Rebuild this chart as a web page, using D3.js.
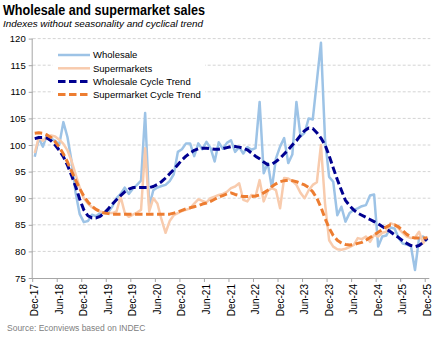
<!DOCTYPE html>
<html><head><meta charset="utf-8">
<script src="https://cdn.jsdelivr.net/npm/d3@7"></script>
<style>body{margin:0;background:#fff}svg{display:block}text{font-family:"Liberation Sans",Arial,sans-serif}</style>
</head><body><svg id="c" width="443" height="341"></svg>
<script>
const tickLabels = ["Dec-17","Jun-18","Dec-18","Jun-19","Dec-19","Jun-20","Dec-20","Jun-21","Dec-21","Jun-22","Dec-22","Jun-23","Dec-23","Jun-24","Dec-24","Jun-25","Dec-25"];
const yTicks = [75,80,85,90,95,100,105,110,115,120];
const seriesNames = ["Wholesale","Supermarkets","Wholesale Cycle Trend","Supermarket Cycle Trend"];

const wholesale = [97.8,101.3,99.7,101.9,101.2,100.8,100.1,104.3,101.5,97,91,87,85.5,85.7,86.9,86.6,87.2,87.3,87.4,88.5,90,90.8,92,90.8,91.8,92.5,93.3,106,88.5,91.5,92,92.3,92.5,93.2,94.5,98.7,99.2,100.3,100.3,97.9,100.3,99.2,100.6,99.4,96.9,100.5,99.3,100.4,100.9,98.7,99.6,98.4,99.6,99.1,99.4,108.1,94.7,96.6,91.9,97.5,99.7,101.3,96.6,98.2,108.1,101.6,102.3,105,104.8,112,119.2,101,94,93.1,86.8,88.4,85.6,87.2,87.8,88.1,88.5,88.7,90.5,90.7,80.9,82.8,83,84.5,84.3,82.5,81.5,81.3,81,76.5,82.5,82.8,82];

const supermarkets = [98.5,101.5,100.8,101.5,101.8,101.6,101,100.2,99,97,94.5,92,90,89,88.3,87.8,87.5,87.3,87.2,87.2,87.5,90.3,87.3,86.5,86.9,87.3,87.8,99.4,87.5,90,89,86,83.5,85.7,86.8,87.2,87.6,87.8,88.1,89,89.8,89.5,89.2,90,90.3,90.6,90.8,91.2,91.9,92.2,92.8,89.7,89.4,90.6,90.3,93.4,89.4,91.4,91.9,91.5,88.1,93.8,93.7,93.2,92.5,91,90,91.5,92.5,93,100,89,82.1,80.9,80.4,80.3,80.5,80.8,81.2,82.5,82.3,82.8,81.8,83.1,82.8,83.5,83.7,85.3,85,84.3,83.5,82.8,82.5,82.6,83.7,81.5,82.8];

const wholesaleTrend = [101.2,101.4,101.4,101.3,100.8,100,99,97.8,96.2,94.3,92.2,89.8,87.8,86.7,86.3,86.3,86.6,87.2,88,88.9,89.7,90.5,91.2,91.7,92,92,92,92,92,92.2,92.6,93.1,93.8,94.6,95.4,96.3,97.2,97.9,98.5,99,99.3,99.4,99.4,99.3,99.2,99.2,99.3,99.5,99.7,99.7,99.6,99.4,99.1,98.5,97.9,97.4,96.8,96.3,96.4,96.9,97.5,98.3,99.1,100,100.8,101.8,102.7,103.2,103.1,102.3,101.3,100,98,95.7,93.5,91.5,89.6,88.6,87.8,87.2,86.8,86.4,86,85.6,85.2,84.7,84.2,83.7,83.1,82.6,82,81.5,81.1,80.9,81.1,81.7,82.5];

const supermarketTrend = [102.2,102.3,102.2,101.9,101.4,100.6,99.6,98.3,96.8,95.1,93.4,91.8,90.4,89.3,88.5,87.9,87.5,87.2,87.1,87,87,87,87,87,87,87,87,87,87,87,87,87,87,87,87.2,87.4,87.7,88,88.2,88.4,88.6,88.9,89.1,89.4,89.8,90.2,90.5,90.8,91,90.7,90.5,90.3,90.3,90.3,90.4,90.6,91,91.5,92.2,92.7,93.1,93.3,93.4,93.3,93.1,92.8,92.5,92,91.2,90,88.3,86.2,84.4,83,82.1,81.6,81.3,81.2,81.3,81.5,81.7,82.1,82.6,83.1,83.6,84.1,84.6,85,85,84.6,83.9,83.2,82.7,82.5,82.5,82.5,82.5];

const colors = ["#9dc3e6","#f8cbad","#000090","#ed7d31"];

const svg = d3.select("#c");
const L = 32.7, R = 429.3, T = 38.6, B = 278;
const months = d3.range(wholesale.length);
const x = d3.scaleBand().domain(months).range([L, R]).padding(0);
const cx = m => x(m) + x.bandwidth() / 2;
const y = d3.scaleLinear().domain([75, 120]).range([B, T]);

// gridlines
svg.append("g").selectAll("line").data(yTicks.filter(v => v > 75)).join("line")
  .attr("x1", L).attr("x2", R + 1).attr("y1", d => y(d)).attr("y2", d => y(d))
  .attr("stroke", "#d4d4d4").attr("stroke-width", 1).attr("stroke-dasharray", "3,2");

// y axis
const ya = svg.append("g").attr("transform", `translate(${L},0)`)
  .call(d3.axisLeft(y).tickValues(yTicks).tickSize(4).tickPadding(3));
ya.select(".domain").attr("stroke", "#a6a6a6").attr("d", `M-0.5,${B}V${T}`);
ya.selectAll(".tick line").attr("stroke", "#a6a6a6");
ya.selectAll("text").attr("font-size", 9.5).attr("fill", "#000").style("font-family", '"Liberation Sans",Arial,sans-serif');

// x axis
const tickMonths = months.filter(m => m % 6 === 0);
const xa = svg.append("g").attr("transform", `translate(0,${B})`)
  .call(d3.axisBottom(x).tickValues(tickMonths).tickFormat((d, i) => tickLabels[i]).tickSize(0));
xa.select(".domain").attr("stroke", "#a6a6a6").attr("d", `M${L},0.5H${R}`);
xa.selectAll("text").attr("font-size", 10).attr("fill", "#000")
  .style("font-family", '"Liberation Sans",Arial,sans-serif')
  .attr("transform", "rotate(-90)").attr("x", -6).attr("y", 0).attr("dy", "0.35em")
  .style("text-anchor", "end");
svg.append("g").selectAll("line").data(tickMonths).join("line")
  .attr("x1", d => x(d)).attr("x2", d => x(d)).attr("y1", B).attr("y2", B + 4)
  .attr("stroke", "#a6a6a6");

// lines
const line = d3.line().x((d, i) => cx(i)).y(d => y(d));
const series = [wholesale, supermarkets, wholesaleTrend, supermarketTrend];
const widths = [2.5, 2.5, 3, 3];
const dashes = [null, null, "7.5,3.5", "7.5,3.5"];
series.forEach((s, k) => {
  svg.append("path").datum(s).attr("d", line).attr("fill", "none")
    .attr("stroke", colors[k]).attr("stroke-width", widths[k])
    .attr("stroke-linejoin", "round")
    .attr("stroke-dasharray", dashes[k]);
});

// legend
const lg = svg.append("g");
lg.append("rect").attr("x", 53).attr("y", 47).attr("width", 152).attr("height", 54).attr("fill", "#fff");
const rowY = [55, 68.3, 81.6, 94.6];
seriesNames.forEach((n, k) => {
  lg.append("line").attr("x1", 58).attr("x2", 90).attr("y1", rowY[k]).attr("y2", rowY[k])
    .attr("stroke", colors[k]).attr("stroke-width", widths[k]).attr("stroke-dasharray", dashes[k]);
  lg.append("text").attr("x", 93).attr("y", rowY[k]).attr("dy", "0.35em")
    .attr("font-size", 9.5).attr("fill", "#000").text(n);
});

// titles
svg.append("text").attr("x", 3).attr("y", 15).attr("font-size", 14).attr("font-weight", "bold")
  .attr("textLength", 202).attr("lengthAdjust", "spacingAndGlyphs").text("Wholesale and supermarket sales");
svg.append("text").attr("x", 3).attr("y", 27).attr("font-size", 9.5).attr("font-style", "italic")
  .attr("textLength", 200).attr("lengthAdjust", "spacingAndGlyphs").text("Indexes without seasonality and cyclical trend");
svg.append("text").attr("x", 7).attr("y", 331).attr("font-size", 8.5).attr("fill", "#808080")
  .text("Source: Econviews based on INDEC");
</script></body></html>
